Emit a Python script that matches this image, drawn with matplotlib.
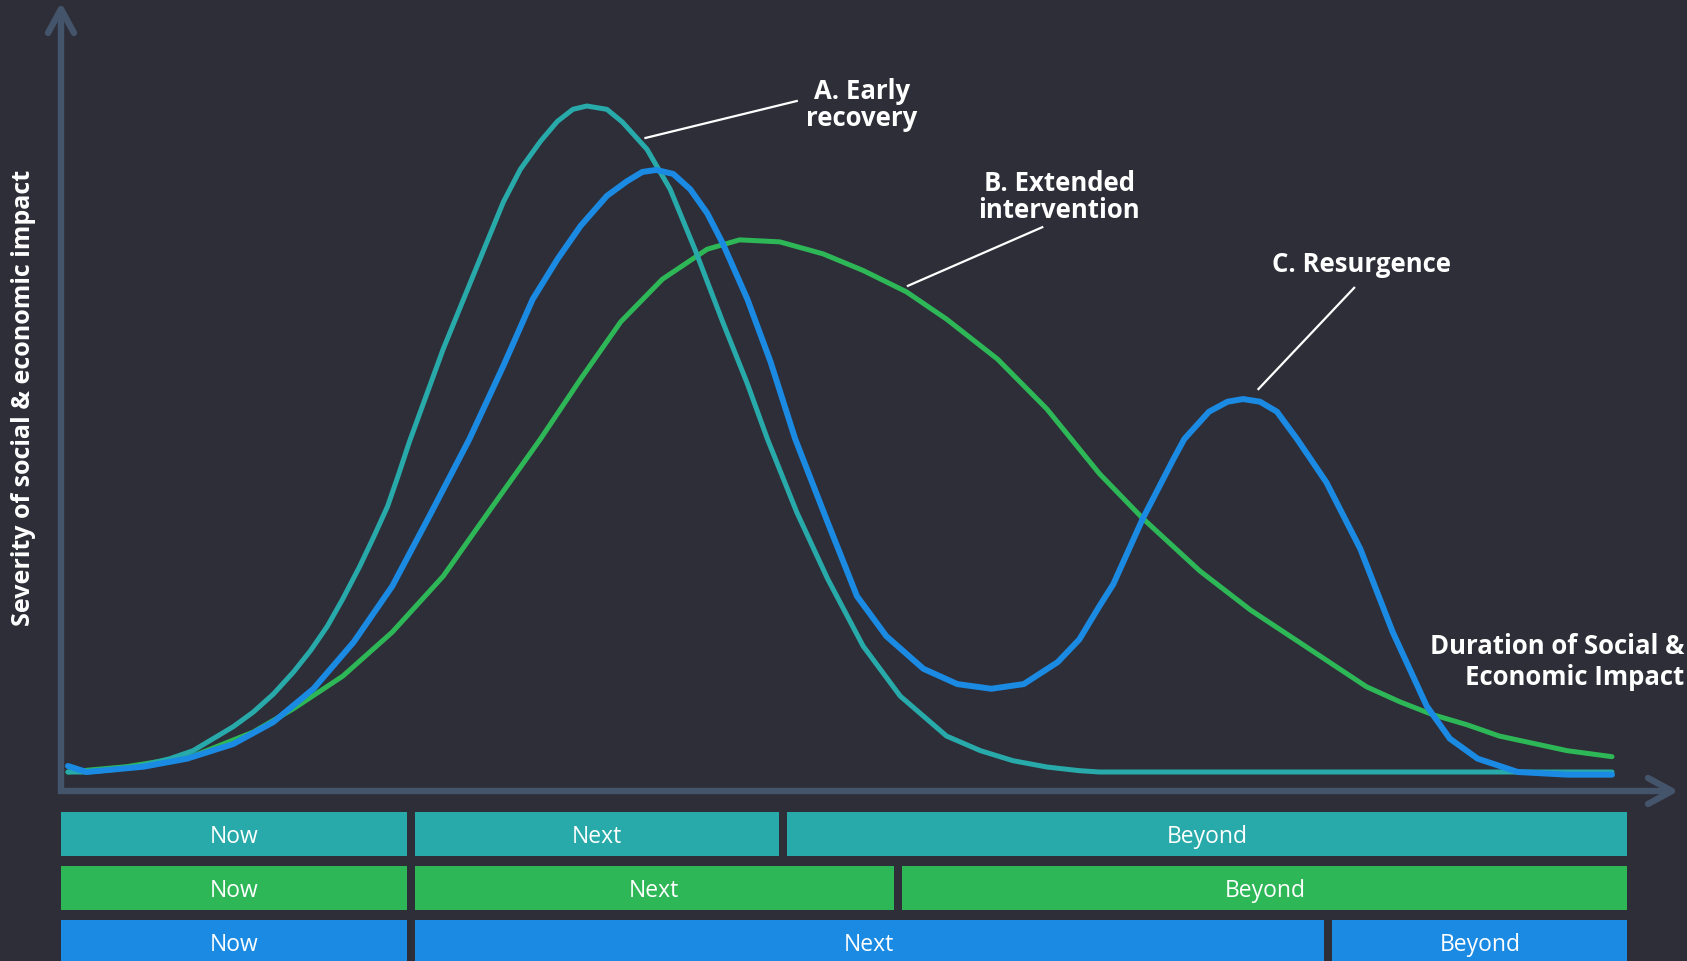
import matplotlib.pyplot as plt

# Couleurs
fond = '#2e2e38'
axe_col = '#44546a'
teal = '#27aaa9'
vert = '#2db757'
bleu = '#1a8ae3'
blanc = '#ffffff'

# Données : durée (0-100) et sévérité (0-100)
# A. Early recovery
t_a = [0, 1.2, 2.7, 4.5, 6.6, 8.1, 9.4, 10.7, 12.0, 13.3, 14.6, 15.7, 16.8, 17.8, 18.9,
       19.8, 20.7, 21.4, 22.1, 24.3, 26.5, 28.2, 29.3, 30.6, 31.7, 32.7, 33.6, 34.9, 35.9,
       37.5, 39.0, 40.6, 42.4, 44.0, 45.3, 47.2, 49.2, 51.5, 53.9, 56.9, 59.1, 61.2, 63.4,
       65.5, 66.8, 100]
s_a = [0, 0, 0.3, 0.8, 2.0, 3.2, 5.0, 6.8, 9.0, 11.7, 15.0, 18.2, 21.9, 26.0, 30.9,
       35.3, 39.9, 44.6, 49.5, 63.5, 76.0, 85.6, 90.5, 94.7, 97.7, 99.5, 100, 99.5, 97.6,
       93.5, 87.5, 78.5, 67.6, 58.3, 50.0, 39.0, 29.0, 18.9, 11.4, 5.4, 3.2, 1.7, 0.75,
       0.2, 0, 0]

# B. Extended intervention
t_b = [0, 3.8, 8.1, 12.0, 14.6, 17.8, 21.0, 24.3, 27.5, 30.6, 31.9, 33.2, 35.8, 38.5, 41.4,
       43.5, 46.1, 48.9, 51.5, 54.3, 56.9, 60.2, 63.4, 66.8, 69.6, 73.3, 76.6, 79.8,
       84.1, 86.3, 88.4, 90.6, 92.7, 97.1, 100]
s_b = [0, 0.8, 2.4, 6.0, 9.5, 14.4, 21.0, 29.4, 39.9, 50.0, 54.5, 59.0, 67.6, 74.0, 78.5,
       79.9, 79.6, 77.8, 75.3, 72.1, 68.0, 62.0, 54.5, 44.8, 38.1, 30.2, 24.3, 19.4,
       12.8, 10.5, 8.6, 7.1, 5.4, 3.2, 2.3]

# C. Resurgence
t_c = [0, 1.2, 4.9, 7.7, 10.7, 13.3, 15.9, 18.5, 21.0, 23.4, 26.0, 28.2, 30.1, 31.7, 33.2,
       34.9, 36.2, 37.2, 38.1, 39.2, 40.3, 41.4, 42.4, 44.0, 45.5, 47.1, 49.2, 51.1, 53.0,
       55.4, 57.6, 59.8, 61.9, 64.1, 65.5, 66.8, 67.7, 69.6, 71.6, 72.3, 73.9, 75.1, 76.1,
       77.2, 78.3, 79.6, 81.5, 83.7, 85.8, 88.0, 89.5, 91.3, 93.9, 97.1, 100]
s_c = [0.9, 0, 0.8, 2.0, 4.2, 7.5, 12.5, 19.5, 27.9, 38.4, 50.0, 61.0, 71.0, 77.0, 82.0,
       86.5, 88.7, 90.1, 90.4, 89.8, 87.5, 83.9, 79.4, 71.0, 61.6, 50.0, 37.5, 26.4, 20.4,
       15.5, 13.2, 12.5, 13.2, 16.5, 19.9, 24.9, 28.2, 38.0, 47.0, 50.0, 54.1, 55.6, 56.0,
       55.6, 54.1, 50.0, 43.5, 33.5, 21.0, 9.9, 5.0, 2.0, 0, -0.4, -0.4]

# Phases Now / Next / Beyond (bornes en unités de durée) pour A, B, C
phases = ['Now', 'Next', 'Beyond']
debut = -0.45
fin_now = [22.2, 22.2, 22.2]
fin_next = [46.3, 53.75, 81.6]
fin = 101.0
couleurs_barres = [teal, vert, bleu]

# Étiquettes
etiquettes = ['A. Early\nrecovery', 'B. Extended\nintervention', 'C. Resurgence']
pos_etiquettes = [(51.4, 100.3), (64.2, 86.5), (83.8, 76.3)]
traits = [((47.2, 100.75), (37.4, 95.2)),
          ((63.1, 81.8), (54.4, 73.0)),
          ((83.3, 72.7), (77.1, 57.5))]

W, H = 1687, 962
fig = plt.figure(figsize=(W / 100, H / 100), dpi=100)
fig.patch.set_facecolor(fond)

police = ['Open Sans', 'DejaVu Sans']

# Flèches des axes (en pixels)
ov = fig.add_axes([0, 0, 1, 1], zorder=0)
ov.set_xlim(0, W)
ov.set_ylim(H, 0)
ov.axis('off')
ov.plot([61, 61, 1670], [11, 792, 792], color=axe_col, lw=4.6,
        solid_capstyle='round', solid_joinstyle='miter')
ov.plot([48, 61, 74], [34, 10, 34], color=axe_col, lw=4.6,
        solid_capstyle='round', solid_joinstyle='round')
ov.plot([1648, 1672, 1648], [779, 792, 805], color=axe_col, lw=4.6,
        solid_capstyle='round', solid_joinstyle='round')

# Courbes
ax = fig.add_axes([68 / W, 1 - 773 / H, 1544 / W, 666 / H], zorder=2)
ax.patch.set_alpha(0)
ax.set_xlim(0, 100)
ax.set_ylim(0, 100)
ax.axis('off')
ax.plot(t_b, s_b, color=vert, lw=3.6, solid_capstyle='round', solid_joinstyle='round', clip_on=False)
ax.plot(t_a, s_a, color=teal, lw=3.6, solid_capstyle='round', solid_joinstyle='round', clip_on=False)
ax.plot(t_c, s_c, color=bleu, lw=4.3, solid_capstyle='round', solid_joinstyle='round', clip_on=False)

for txt, (x, y), (p1, p2) in zip(etiquettes, pos_etiquettes, traits):
    ax.text(x, y, txt, ha='center', va='center', color=blanc, fontsize=18.5,
            fontweight='bold', family=police, linespacing=1.0)
    ax.plot([p1[0], p2[0]], [p1[1], p2[1]], color=blanc, lw=1.6, clip_on=False)

# Barres Now / Next / Beyond
axb = fig.add_axes([68 / W, 0, 1544 / W, 150 / H], zorder=1)
axb.patch.set_alpha(0)
axb.set_xlim(0, 100)
axb.set_ylim(2.352, -0.426)
axb.axis('off')
ecart = 0.55
for i in range(3):
    bornes = [debut, fin_now[i], fin_next[i], fin]
    for j, nom in enumerate(phases):
        g = bornes[j] + (ecart / 2 if j > 0 else 0)
        d = bornes[j + 1] - (ecart / 2 if j < 2 else 0)
        axb.barh(i, d - g, left=g, height=0.833, color=couleurs_barres[i], clip_on=False)
        axb.text((g + d) / 2, i + 0.03, nom, ha='center', va='center', color=blanc,
                 fontsize=16.5, family=police)

# Titres des axes
fig.text(24 / W, 1 - 398 / H, 'Severity of social & economic impact', rotation=90,
         ha='center', va='center', color=blanc, fontsize=18, fontweight='bold', family=police)
fig.text(1684 / W, 1 - 662 / H, 'Duration of Social &\nEconomic Impact', ha='right',
         va='center', multialignment='right', color=blanc, fontsize=18.5,
         fontweight='bold', family=police, linespacing=1.2)

fig.savefig('out.png', dpi=100, facecolor=fond)
